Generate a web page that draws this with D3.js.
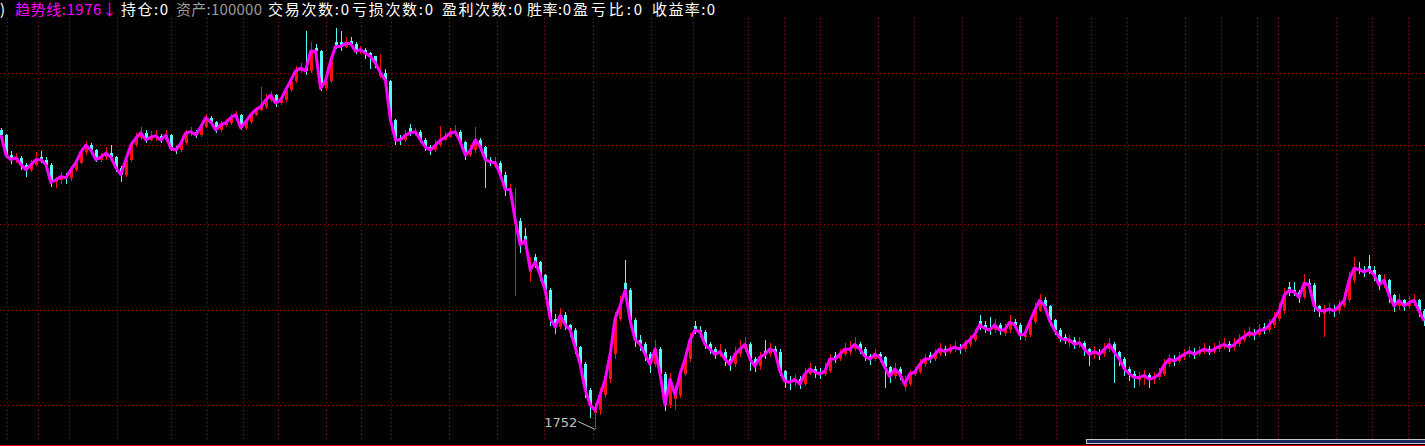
<!DOCTYPE html>
<html><head><meta charset="utf-8">
<script src="https://cdn.jsdelivr.net/npm/d3@7"></script>
<style>html,body{margin:0;padding:0;background:#000;overflow:hidden}</style>
</head><body>
<svg id="c" width="1425" height="446"></svg>
<script>
// close / trend-line values (one per bar)
const closes = [2427,2374,2362,2367,2349,2336,2349,2362,2362,2349,2303,2310,2318,2315,2336,2354,2382,2400,2387,2362,
2369,2379,2369,2341,2323,2362,2400,2419,2433,2414,2422,2425,2414,2427,2392,2387,2405,2433,2436,2427,
2449,2474,2463,2441,2455,2460,2474,2482,2447,2463,2482,2496,2504,2523,2537,2515,2523,2551,2578,2606,
2614,2606,2663,2663,2556,2578,2634,2677,2677,2686,2686,2663,2668,2657,2648,2628,2600,2578,2468,2414,
2414,2427,2433,2436,2414,2395,2387,2400,2414,2422,2433,2436,2408,2374,2387,2414,2395,2362,2356,2354,
2323,2285,2285,2208,2149,2160,2091,2109,2079,2044,1981,1963,1988,1967,1956,1919,1883,1831,1800,1790,
1821,1852,1904,1981,2009,2044,1977,1935,1925,1904,1883,1915,1863,1800,1852,1821,1863,1894,1935,1956,
1952,1925,1915,1904,1910,1894,1883,1904,1915,1925,1894,1879,1898,1904,1915,1910,1869,1848,1846,1852,
1842,1863,1873,1867,1863,1869,1894,1894,1904,1915,1915,1925,1915,1900,1894,1904,1898,1877,1858,1873,
1863,1842,1863,1867,1883,1894,1894,1904,1915,1910,1915,1919,1915,1925,1935,1946,1967,1960,1956,1967,
1956,1956,1973,1967,1946,1946,1973,1998,2021,2009,1977,1956,1940,1935,1935,1925,1929,1915,1904,1910,
1904,1915,1925,1908,1894,1873,1863,1856,1856,1860,1852,1856,1863,1883,1894,1890,1898,1904,1910,1904,
1910,1915,1910,1915,1921,1925,1919,1925,1935,1942,1950,1946,1956,1956,1967,1981,1998,2033,2044,2040,
2028,2060,2056,2009,1998,1998,2002,1998,2009,2021,2067,2095,2091,2086,2091,2079,2056,2067,2033,2009,
2021,2009,2016,2021,1998,1976];
const opens = [2440,2427,2374,2362,2367,2349,2336,2349,2370,2362,2349,2303,2310,2318,2315,2336,2354,2382,2400,2387,
2362,2369,2379,2369,2341,2323,2362,2400,2419,2433,2414,2422,2425,2414,2427,2392,2387,2405,2433,2436,
2427,2449,2474,2463,2441,2455,2460,2474,2482,2447,2463,2482,2496,2504,2523,2537,2515,2523,2551,2578,
2606,2614,2606,2672,2663,2556,2578,2690,2690,2677,2695,2686,2663,2668,2657,2648,2590,2600,2578,2468,
2420,2414,2445,2433,2436,2414,2395,2387,2400,2414,2422,2433,2436,2408,2374,2387,2414,2395,2362,2345,
2354,2323,2278,2200,2208,2170,2085,2120,2109,2079,2044,1981,1963,1988,1967,1956,1919,1883,1831,1785,
1790,1821,1852,1904,1981,2060,2044,1977,1935,1925,1904,1883,1915,1863,1800,1812,1821,1863,1894,1965,
1956,1952,1925,1915,1904,1910,1894,1883,1904,1915,1925,1894,1879,1912,1904,1915,1910,1869,1848,1846,
1852,1842,1863,1873,1867,1863,1869,1900,1894,1904,1908,1915,1925,1915,1900,1894,1904,1898,1877,1858,
1873,1836,1842,1863,1867,1883,1902,1894,1904,1915,1910,1915,1919,1915,1925,1935,1975,1967,1960,1956,
1967,1950,1956,1973,1967,1940,1946,1973,1998,2021,2009,1977,1956,1940,1928,1935,1925,1929,1915,1904,
1910,1904,1915,1925,1908,1894,1873,1863,1850,1856,1860,1852,1856,1863,1883,1894,1890,1898,1904,1910,
1904,1910,1915,1910,1915,1921,1925,1919,1925,1935,1942,1950,1946,1962,1956,1967,1981,1998,2052,2044,
2040,2028,2060,2056,2009,1992,1998,2002,1998,2009,2021,2067,2095,2091,2100,2091,2079,2056,2067,2033,
2009,2021,2009,2016,2021,1998];
const highs = [2445,2430,2385,2380,2372,2352,2360,2382,2385,2368,2352,2318,2330,2328,2345,2362,2392,2412,2405,2390,
2380,2395,2400,2372,2345,2370,2410,2432,2450,2440,2438,2440,2430,2440,2430,2398,2412,2440,2448,2442,
2458,2485,2480,2466,2465,2470,2485,2492,2485,2472,2490,2505,2560,2540,2548,2540,2535,2560,2590,2620,
2630,2725,2690,2685,2668,2590,2650,2734,2725,2705,2705,2690,2680,2672,2662,2650,2655,2610,2580,2470,
2428,2440,2458,2445,2440,2418,2400,2415,2452,2435,2445,2455,2440,2412,2400,2450,2420,2398,2370,2368,
2358,2330,2300,2290,2215,2190,2120,2128,2112,2082,2050,1990,2005,1995,1970,1960,1922,1888,1835,1805,
1835,1870,1915,1995,2030,2113,2050,1982,1945,1930,1910,1935,1920,1868,1865,1840,1872,1905,1950,1975,
1965,1955,1930,1920,1925,1915,1900,1920,1935,1940,1930,1898,1910,1935,1928,1922,1915,1872,1858,1862,
1858,1875,1885,1880,1875,1885,1905,1908,1915,1928,1932,1940,1930,1920,1905,1915,1910,1900,1880,1885,
1878,1858,1872,1878,1895,1905,1910,1915,1928,1922,1925,1932,1925,1935,1945,1958,1988,1975,1985,1980,
1972,1968,1988,1980,1972,1958,1985,2015,2035,2028,2012,1980,1960,1948,1945,1940,1940,1932,1918,1922,
1915,1928,1938,1930,1912,1898,1878,1870,1868,1872,1865,1868,1875,1895,1905,1902,1910,1915,1922,1918,
1922,1928,1922,1928,1932,1938,1932,1938,1948,1955,1962,1958,1970,1972,1980,1995,2015,2050,2062,2062,
2045,2080,2070,2060,2012,2010,2015,2010,2022,2040,2085,2120,2110,2100,2125,2100,2082,2080,2070,2036,
2035,2025,2030,2035,2025,2002];
const lows = [2410,2365,2350,2352,2335,2318,2330,2345,2352,2340,2292,2290,2300,2300,2308,2330,2350,2375,2378,2355,
2355,2362,2360,2330,2305,2318,2355,2395,2415,2405,2410,2412,2405,2408,2385,2378,2382,2400,2425,2418,
2422,2445,2455,2432,2436,2448,2455,2470,2440,2442,2458,2478,2492,2498,2518,2505,2508,2518,2545,2572,
2600,2595,2600,2648,2548,2550,2572,2670,2665,2672,2675,2655,2655,2640,2610,2615,2585,2560,2455,2400,
2400,2408,2425,2425,2405,2385,2375,2383,2395,2410,2418,2425,2400,2362,2370,2380,2385,2290,2345,2340,
2315,2270,2262,2030,2130,2140,2063,2095,2065,2030,1965,1948,1958,1955,1940,1905,1870,1815,1775,1752,
1780,1815,1845,1895,1975,2035,1965,1920,1912,1890,1865,1878,1845,1788,1795,1790,1815,1858,1888,1948,
1940,1915,1905,1895,1898,1880,1870,1878,1898,1910,1870,1868,1872,1895,1898,1900,1858,1835,1830,1838,
1832,1838,1860,1855,1852,1858,1865,1885,1890,1900,1902,1912,1905,1890,1882,1890,1888,1835,1845,1852,
1850,1828,1838,1858,1862,1878,1885,1890,1900,1900,1905,1910,1905,1910,1920,1930,1955,1950,1945,1950,
1945,1942,1950,1958,1935,1932,1940,1968,1995,2000,1965,1945,1930,1925,1920,1915,1918,1900,1880,1895,
1892,1898,1910,1845,1880,1858,1848,1835,1838,1840,1835,1842,1850,1858,1878,1880,1885,1892,1898,1895,
1900,1905,1902,1905,1910,1915,1910,1912,1920,1930,1938,1935,1940,1948,1950,1960,1975,1992,2030,2030,
2015,2025,2040,1995,1985,1940,1990,1985,1992,2005,2015,2060,2080,2075,2080,2065,2045,2050,2015,1995,
2000,1998,2002,2008,1985,1965];
// vertical grid positions, in bar index units
const gridBars = [1.2,7.4,13.6,23.2,34,41.2,48.4,55.4,65,72.2,78.2,89.8,99.4,108.8,118.6,130.2,138.6,
149.6,156.8,164,175.6,182.8,192.4,204,211.2,218.4,225.6,237.2,244.4,251.6,255.8,267.4,274.6,281.8];
const gridPrices = [1800,2000,2200,2400,2600];
const header = [
 {t:")", c:"#ffffff"},
 {t:"趋势线:1976↓", c:"#ff00ff"},
 {t:"持仓:0", c:"#ffffff"},
 {t:"资产:100000", c:"#9a9a9a"},
 {t:"交易次数:0", c:"#ffffff"},
 {t:"亏损次数:0", c:"#ffffff"},
 {t:"盈利次数:0", c:"#ffffff"},
 {t:"胜率:0", c:"#ffffff"},
 {t:"盈亏比:0", c:"#ffffff"},
 {t:"收益率:0", c:"#ffffff"}
];
const headerX = [0,15,121,176,268,352,442,527,573,652];
const headerW = [7,102,47,86,81,81,80,44,69,63];
const lowLabel = {idx:119, price:1752, text:"1752"};

const svg = d3.select("#c");
const W = 1425, H = 446;
svg.append("rect").attr("width",W).attr("height",H).attr("fill","#000");

const n = closes.length;
const x = d3.scaleLinear().domain([0, n-1]).range([1, 1424]);
const y = d3.scaleLog().domain([1737.5, 2763]).range([437, 18]);
const bars = closes.map((c,i)=>({i, o:opens[i], h:highs[i], l:lows[i], c}));

const g = svg.append("g");
// grid
g.selectAll("line.h").data(gridPrices).join("line")
 .attr("x1",0).attr("x2",W)
 .attr("y1",d=>Math.round(y(d))+0.5).attr("y2",d=>Math.round(y(d))+0.5)
 .attr("stroke","#a00000").attr("stroke-dasharray","1,3").attr("shape-rendering","crispEdges");
g.selectAll("line.v").data(gridBars).join("line")
 .attr("x1",d=>Math.round(x(d))+0.5).attr("x2",d=>Math.round(x(d))+0.5)
 .attr("y1",18).attr("y2",442)
 .attr("stroke","#a00000").attr("stroke-dasharray","1,3").attr("shape-rendering","crispEdges");

// candles
const col = d => d.c >= d.o ? "#ff1010" : "#54fcfc";
const cg = g.append("g").attr("shape-rendering","crispEdges");
cg.selectAll("line.w").data(bars).join("line")
 .attr("x1",d=>Math.round(x(d.i))+0.5).attr("x2",d=>Math.round(x(d.i))+0.5)
 .attr("y1",d=>y(d.h)).attr("y2",d=>y(d.l))
 .attr("stroke",col).attr("stroke-width",1);
cg.selectAll("rect.b").data(bars).join("rect")
 .attr("x",d=>Math.round(x(d.i))-1).attr("width",3)
 .attr("y",d=>y(Math.max(d.o,d.c)))
 .attr("height",d=>Math.max(1, y(Math.min(d.o,d.c))-y(Math.max(d.o,d.c))))
 .attr("fill",col);

// trend line
g.append("path").datum(closes)
 .attr("d", d3.line().x((d,i)=>x(i)).y(d=>y(d)))
 .attr("fill","none").attr("stroke","#ff00ff").attr("stroke-width",3).attr("stroke-linejoin","round");

// low label
const lx = x(lowLabel.idx), ly = y(lowLabel.price);
svg.append("line").attr("x1",lx-17).attr("y1",ly-8).attr("x2",lx).attr("y2",ly)
 .attr("stroke","#c0c0c0").attr("stroke-width",1);
svg.append("text").attr("x",lx-51).attr("y",ly-2).text(lowLabel.text)
 .attr("fill","#c0c0c0").attr("font-family","DejaVu Sans, sans-serif").attr("font-size",13);

// header
svg.selectAll("text.hd").data(header).join("text")
 .attr("x",(d,i)=>headerX[i]).attr("y",15)
 .attr("fill",d=>d.c).attr("font-size",15)
 .attr("font-family","'Noto Sans CJK SC', sans-serif")
 .attr("textLength",(d,i)=>headerW[i]).attr("lengthAdjust","spacing")
 .text(d=>d.t);

// bottom scroll bar + red baseline
svg.append("rect").attr("x",1086.5).attr("y",439.5).attr("width",340).attr("height",4)
 .attr("fill","#1a2a5e").attr("stroke","#c8c8c8").attr("stroke-width",1);
svg.append("line").attr("x1",0).attr("x2",W).attr("y1",445.5).attr("y2",445.5).attr("stroke","#e00000");
</script>
</body></html>
